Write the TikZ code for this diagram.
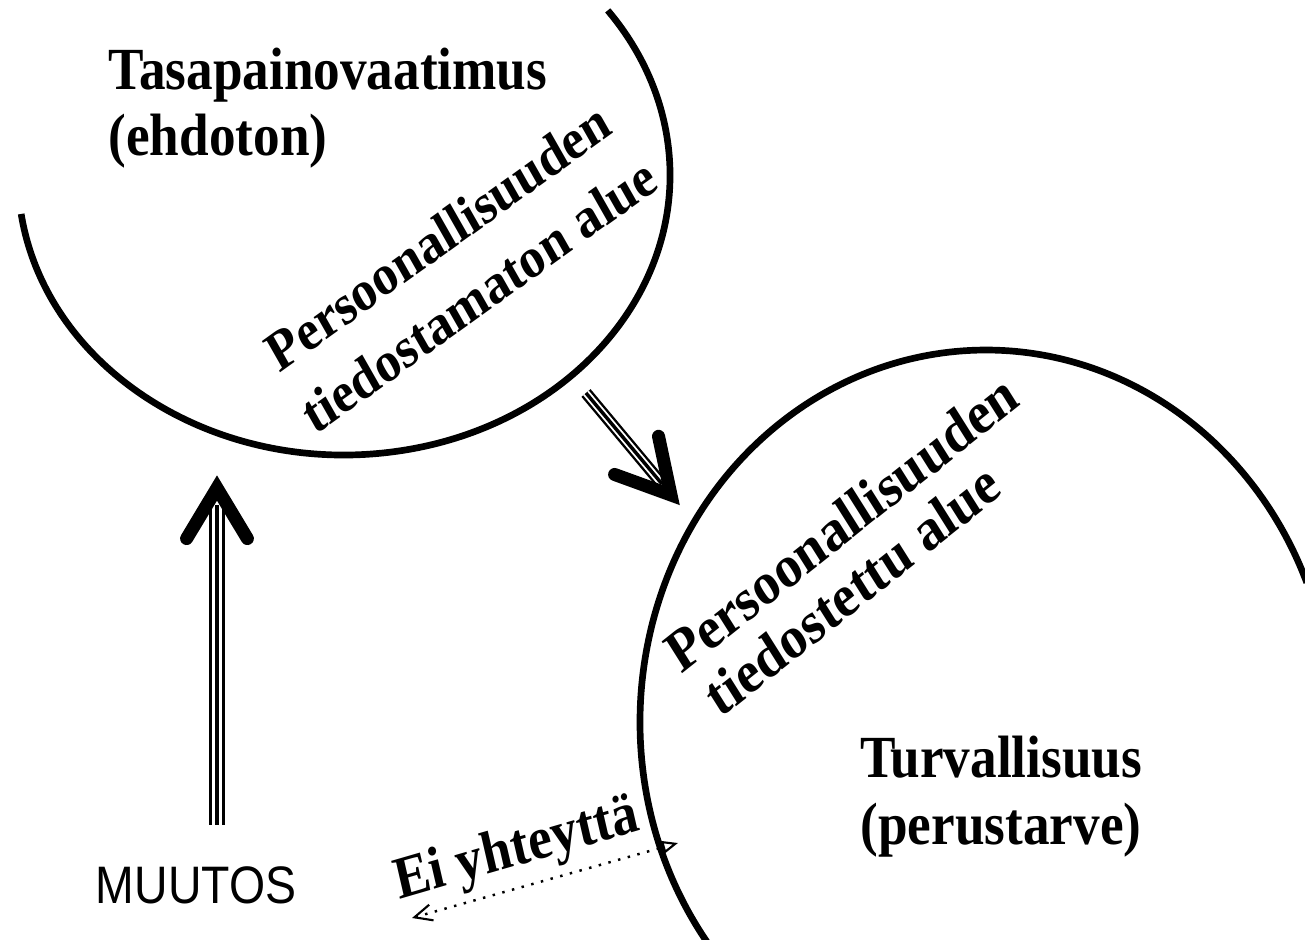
\documentclass[tikz,border=0pt]{standalone}
\usepackage{fontspec}
\setmainfont{Liberation Serif}
\newfontfamily\arialfont{Liberation Sans}
\usetikzlibrary{arrows.meta,calc}

\begin{document}
\begin{tikzpicture}[x=0.01cm, y=-0.01cm,
  ring/.style={line width=1.9pt},
  title/.style={font=\bfseries\fontsize{17}{19}\selectfont, inner sep=0pt, xscale=0.89},
  triple/.style={line width=#1, postaction={draw, white, line width=0.6*#1}, postaction={draw, black, line width=0.29*#1}},
  head/.style={line width=3.7pt, line cap=round, line join=miter},
  noline/.style={line width=0.7pt, dash pattern=on 0.7pt off 2.15pt}]
  \fill[white] (0,0) rectangle (1305,940);
  \useasboundingbox (0,0) rectangle (1305,940);
  % the two areas
  \coordinate (c1) at (344,175); \coordinate (c2) at (986,722);
  \draw[ring] (c1) ++(172:326 and 280) arc[start angle=172, end angle=-36, x radius=326, y radius=280];
  \draw[ring] (c2) ++(143.7:346 and 372) arc[start angle=143.7, end angle=338, x radius=346, y radius=372];
  % texts
  \node[title, anchor=north west, align=left] (tasap) at (108,47) {Tasapainovaatimus\\(ehdoton)};
  \node[title, align=center] (turva) at (1001,797) {Turvallisuus\\(perustarve)};
  \node[title, font=\bfseries\fontsize{16.2}{21}\selectfont, rotate=32.6, align=left] (tiedostamaton) at (461,264) {Persoonallisuuden\\tiedostamaton alue};
  \node[title, font=\bfseries\fontsize{17}{17.5}\selectfont, rotate=35.3, align=left] (tiedostettu) at (857,548) {Persoonallisuuden\\\hspace{3pt}tiedostettu alue};
  \node[title, rotate=14.5] (eiyht) at (517,851) {Ei yhteyttä};
  \node[font=\arialfont\fontsize{15}{17}\selectfont, inner sep=0pt, xscale=0.88] (muutos) at (196,885) {MUUTOS};
  % arrows
  \coordinate (up-s) at (217,825); \coordinate (up-j) at (217,505); \coordinate (up-t) at (217,488);
  \draw[triple=4.6pt] (up-s) -- (up-j);
  \draw[head] (up-t) ++(59:59) -- (up-t) -- ++(121:59);
  \coordinate (dn-s) at (586,393); \coordinate (dn-j) at (662,484); \coordinate (dn-t) at (671,495);
  \draw[triple=3.4pt] (dn-s) -- (dn-j);
  \draw[head] (dn-t) ++(200:60) -- (dn-t) -- ++(258:60);
  \coordinate (ei-l) at (412,918); \coordinate (ei-r) at (678,843);
  \draw[noline, {Straight Barb[length=5pt, width=4.6pt, line width=0.6pt]}-{Triangle[open, length=4.5pt, width=3.6pt, line width=0.6pt]}] (ei-l) -- (ei-r);
\end{tikzpicture}
\end{document}
